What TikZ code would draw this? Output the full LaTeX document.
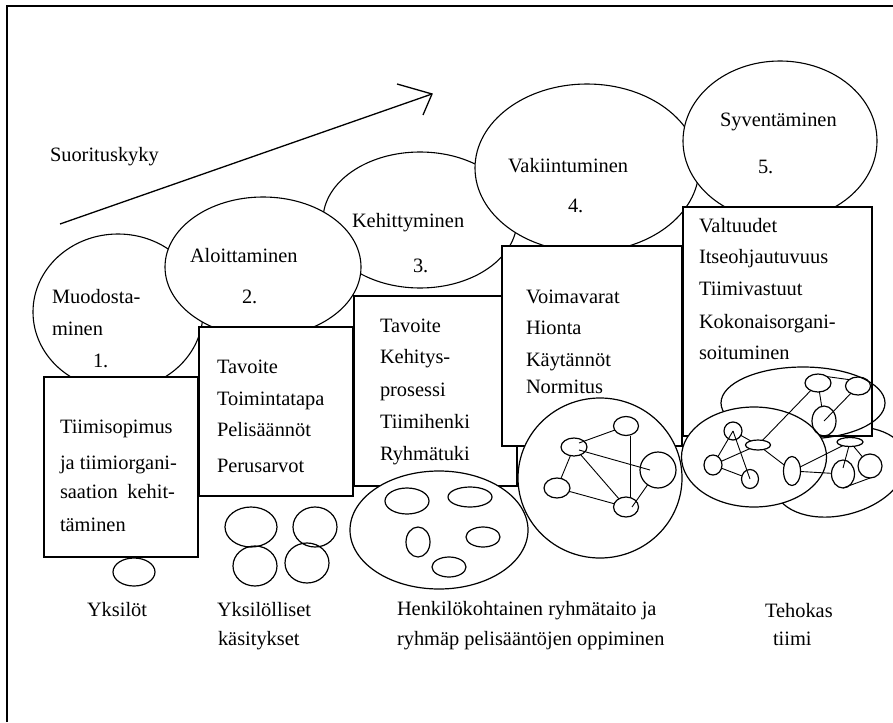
\documentclass[tikz,border=0pt]{standalone}
\usepackage{fontspec}
\setmainfont{Liberation Serif}
\usetikzlibrary{shapes.geometric}
\begin{document}
\begin{tikzpicture}[x=1pt,y=-1pt,
  every node/.style={inner sep=0pt,outer sep=0pt},
  txt/.style={anchor=base west,font=\fontsize{20.4}{24}\selectfont},
  stage/.style={ellipse,draw,fill=white,line width=1.1pt},
  panel/.style={rectangle,draw,fill=white,line width=1.2pt,anchor=north west},
  blob/.style={ellipse,draw,line width=1.2pt},
  wblob/.style={blob,fill=white},
  link/.style={line width=0.9pt},
]
\useasboundingbox (0,0) rectangle (893,722);

% frame
\draw[line width=1.2pt] (7,722) -- (7,6) -- (893,6);

% performance arrow
\coordinate (arrS) at (60,224);
\coordinate (arrE) at (432,94);
\coordinate (headA) at (397,84);
\coordinate (headB) at (423,115);
\draw[line width=1.3pt] (arrS) -- (arrE);
\draw[line width=1.3pt] (headA) -- (arrE) -- (headB);
\node[txt] (perf) at (50,162) {Suorituskyky};

% stage ellipses
\node[stage,minimum width=170pt,minimum height=156pt] (s1) at (118,312) {};
\node[stage,minimum width=194pt,minimum height=136pt] (s3) at (420,220) {};
\node[stage,minimum width=196pt,minimum height=140pt] (s2) at (263,267) {};
\node[stage,minimum width=224pt,minimum height=168pt] (s4) at (587,168) {};
\node[stage,minimum width=194pt,minimum height=160pt] (s5) at (780,141) {};

% back ellipse of the team
\node[wblob,minimum width=136pt,minimum height=86pt,rotate=15] (er) at (840,472) {};

% content panels
\node[panel,minimum width=154pt,minimum height=180pt] (b1) at (44,377) {};
\node[panel,minimum width=154pt,minimum height=169pt] (b2) at (199,327) {};
\node[panel,minimum width=163pt,minimum height=190pt] (b3) at (354,296) {};
\node[panel,minimum width=180pt,minimum height=200pt] (b4) at (502,246) {};
\node[panel,minimum width=189pt,minimum height=229pt] (b5) at (683,207) {};

% stage titles
\node[txt] (s1a) at (52,303) {Muodosta-};
\node[txt] (s1b) at (52,335) {minen};
\node[txt] (s1n) at (93,367) {1.};
\node[txt] (s2a) at (190,262) {Aloittaminen};
\node[txt] (s2n) at (242,303) {2.};
\node[txt] (s3a) at (352,227) {Kehittyminen};
\node[txt] (s3n) at (413,272) {3.};
\node[txt] (s4a) at (508,172) {Vakiintuminen};
\node[txt] (s4n) at (568,212) {4.};
\node[txt] (s5a) at (720,127) {Syventäminen};
\node[txt] (s5n) at (758,173) {5.};

% panel texts
\foreach \s/\yy [count=\i] in {Tiimisopimus/433, ja tiimiorgani-/469,
    {\hbox to 115pt{saation\hfill kehit-}}/498, täminen/531}
  \node[txt] (b1t\i) at (60,\yy) {\s};
\foreach \s/\yy [count=\i] in {Tavoite/373, Toimintatapa/405,
    Pelisäännöt/436, Perusarvot/472}
  \node[txt] (b2t\i) at (217,\yy) {\s};
\foreach \s/\yy [count=\i] in {Tavoite/332, Kehitys-/363, prosessi/396,
    Tiimihenki/428, Ryhmätuki/460}
  \node[txt] (b3t\i) at (380,\yy) {\s};
\foreach \s/\yy [count=\i] in {Voimavarat/303, Hionta/334,
    Käytännöt/366, Normitus/393}
  \node[txt] (b4t\i) at (526,\yy) {\s};
\foreach \s/\yy [count=\i] in {Valtuudet/232, Itseohjautuvuus/263,
    Tiimivastuut/295, Kokonaisorgani-/328, soituminen/359}
  \node[txt] (b5t\i) at (699,\yy) {\s};

% individuals
\node[blob,minimum width=42pt,minimum height=28pt] (y1) at (134,572) {};
\node[blob,minimum width=52pt,minimum height=40pt] (k1) at (251,527) {};
\node[blob,minimum width=44pt,minimum height=40pt] (k2) at (315,527) {};
\node[blob,minimum width=44pt,minimum height=40pt] (k3) at (255,566) {};
\node[blob,minimum width=44pt,minimum height=40pt] (k4) at (307,563) {};

% group of members
\node[wblob,minimum width=178pt,minimum height=118pt] (g) at (439,530) {};
\node[blob,minimum width=44pt,minimum height=26pt] (g1) at (407,501) {};
\node[blob,minimum width=44pt,minimum height=20pt] (g2) at (470,497) {};
\node[blob,minimum width=24pt,minimum height=30pt] (g3) at (418,542) {};
\node[blob,minimum width=34pt,minimum height=20pt] (g4) at (483,537) {};
\node[blob,minimum width=34pt,minimum height=20pt] (g5) at (449,567) {};

% network
\node[wblob,minimum width=164pt,minimum height=160pt] (net) at (600,478) {};
\node[blob,minimum width=25pt,minimum height=19pt] (n1) at (626,426) {};
\node[blob,minimum width=26pt,minimum height=18pt] (n2) at (574,447) {};
\node[blob,minimum width=36pt,minimum height=36pt] (n3) at (658,470) {};
\node[blob,minimum width=26pt,minimum height=20pt] (n4) at (557,488) {};
\node[blob,minimum width=25pt,minimum height=20pt] (n5) at (626,507) {};
\draw[link] ([shift={(5,-4)}]n2.center) -- (n1);
\draw[link] ([shift={(5,3)}]n2.center) -- ([xshift=-8pt]n3.center);
\draw[link] (n2) -- (n4);
\draw[link] (n2) -- (n5);
\draw[link] (n4) -- (n5);
\draw[link] ([xshift=4pt]n1.south) -- ([xshift=4pt]n5.north);
\draw[link] ([shift={(6,0)}]n5.center) -- (n3);

% team
\node[blob,minimum width=164pt,minimum height=72pt] (et) at (803,403) {};
\node[wblob,minimum width=145pt,minimum height=100pt] (el) at (754,457) {};
\node[blob,minimum width=26pt,minimum height=18pt] (t1) at (818,383) {};
\node[blob,minimum width=25pt,minimum height=18pt] (t2) at (858,386) {};
\node[blob,minimum width=24pt,minimum height=30pt] (t3) at (824,421) {};
\node[blob,minimum width=18pt,minimum height=18pt] (t4) at (733,431) {};
\node[blob,minimum width=25pt,minimum height=10pt] (t5) at (758,445) {};
\node[blob,minimum width=18pt,minimum height=20pt] (t6) at (713,465) {};
\node[blob,minimum width=17pt,minimum height=19pt] (t7) at (750,479) {};
\node[blob,minimum width=17pt,minimum height=29pt] (t8) at (792,471) {};
\node[blob,minimum width=26pt,minimum height=9pt] (t9) at (850,442) {};
\node[blob,minimum width=23pt,minimum height=28pt] (t10) at (843,474) {};
\node[blob,minimum width=24pt,minimum height=24pt] (t11) at (870,466) {};
\draw[link] (t1.north east) -- (t2.north west);
\draw[link] (t1) -- (t3);
\draw[link] (t2) -- (t3.center);
\draw[link] (t1) -- (t5);
\draw[link] (t4.center) -- (t6);
\draw[link] (t4.center) -- (t7.center);
\draw[link] (t4) -- (t5);
\draw[link] (t6) -- (t5);
\draw[link] (t6) -- (t7);
\draw[link] (t5) -- (t8);
\draw[link] (t8) -- (t9);
\draw[link] (t8) -- (t10);
\draw[link] (t9) -- ([yshift=6pt]t10.center);
\draw[link] (t9) -- (t11);
\draw[link] (t10.south) -- (t11.south);

% captions
\node[txt] (c1) at (87,616) {Yksilöt};
\node[txt] (c2a) at (217,616) {Yksilölliset};
\node[txt] (c2b) at (218,645) {käsitykset};
\node[txt] (c3a) at (397,615) {Henkilökohtainen ryhmätaito ja};
\node[txt] (c3b) at (397,645) {ryhmäp pelisääntöjen oppiminen};
\node[txt] (c4a) at (765,617) {Tehokas};
\node[txt] (c4b) at (773,645) {tiimi};
\end{tikzpicture}
\end{document}
